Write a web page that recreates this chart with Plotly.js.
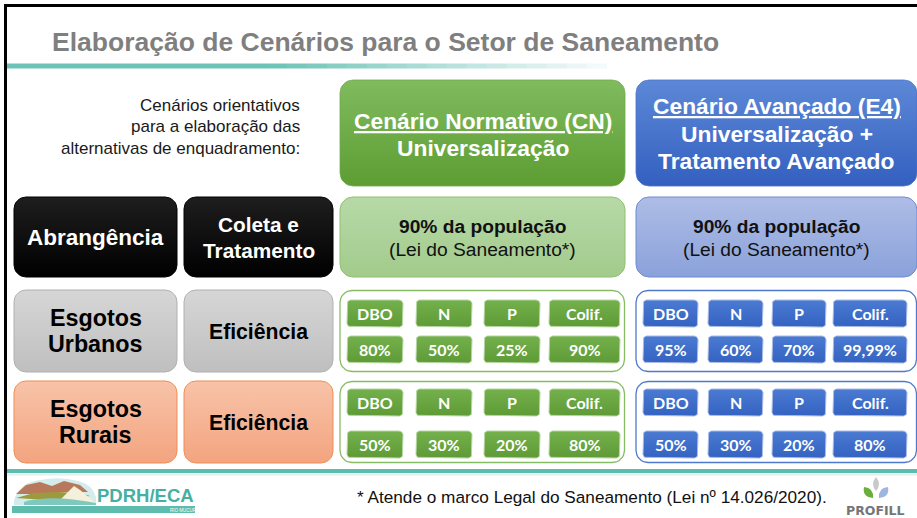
<!DOCTYPE html>
<html><head><meta charset="utf-8">
<script src="https://cdn.plot.ly/plotly-3.0.1.min.js"></script>
<style>html,body{margin:0;padding:0;background:#fff;overflow:hidden}#chart{width:917px;height:518px}</style>
</head><body><div id="chart"></div>
<script>
// ---------- DATA ----------
const TITLE = 'Elaboração de Cenários para o Setor de Saneamento';
const introLines = ['Cenários orientativos', 'para a elaboração das', 'alternativas de enquadramento:'];
const scenarioNames = ['Cenário Normativo (CN)', 'Cenário Avançado (E4)'];
const scenarioSubtitles = [['Universalização'], ['Universalização +', 'Tratamento Avançado']];
const rowLabels = [['Abrangência'], ['Esgotos', 'Urbanos'], ['Esgotos', 'Rurais']];
const rowMeasures = [['Coleta e', 'Tratamento'], ['Eficiência'], ['Eficiência']];
const coverage = ['90% da população', '90% da população'];
const coverageNote = ['(Lei do Saneamento*)', '(Lei do Saneamento*)'];
const params = ['DBO', 'N', 'P', 'Colif.'];
const urbanCN = ['80%', '50%', '25%', '90%'];
const urbanE4 = ['95%', '60%', '70%', '99,99%'];
const ruralCN = ['50%', '30%', '20%', '80%'];
const ruralE4 = ['50%', '30%', '20%', '80%'];
const footnote = '* Atende o marco Legal do Saneamento (Lei nº 14.026/2020).';
const logoLeft = 'PDRH/ECA';
const logoLeftSub = 'RIO MUCURI';
const logoRight = 'PROFILL';

// ---------- GEOMETRY / STYLE ----------
const FONT = 'Liberation Sans, Arial, sans-serif';
const CAL = 'Lato, Carlito, Calibri, sans-serif';
const scenX = [[340, 625], [636, 917]];
const headerY = [80, 186];
const rowY = [[197, 277], [290, 372], [381, 463]];
const leftX = [[14, 177], [184, 333]];
const cellCols = [
  [[347, 403], [416, 472], [484, 540], [549, 620]],
  [[643, 698], [708, 763], [772, 826], [833, 907]]
];
const cellRows = [[[300, 327], [336, 363]], [[389, 416], [431, 458]]];
const efficiency = [[urbanCN, urbanE4], [ruralCN, ruralE4]];

const greenDark = {top: '#80bb5e', bot: '#5d9d33', line: '#6ea84e'};
const blueDark = {top: '#5d88d7', bot: '#3360c0', line: '#4a72c8'};
const greenLight = {top: '#b7d9a7', bot: '#a2cb8c', line: '#8fc06f'};
const blueLight = {top: '#aebde6', bot: '#8aa1da', line: '#6d8bd2'};
const cellGreen = {top: '#74b14c', bot: '#5e9b36', line: '#b5d6a0'};
const cellBlue = {top: '#4c7bd3', bot: '#3362c1', line: '#a9bbe6'};
const leftStyles = [
  [{top: '#1e1e1e', bot: '#000000', line: '#000000'}, {top: '#1e1e1e', bot: '#000000', line: '#000000'}],
  [{top: '#d6d6d6', bot: '#bfbfbf', line: '#b0b0b0'}, {top: '#d6d6d6', bot: '#bfbfbf', line: '#b0b0b0'}],
  [{top: '#f8c3a8', bot: '#f3a47f', line: '#ef8d55'}, {top: '#f8c3a8', bot: '#f3a47f', line: '#ef8d55'}]
];

function rrPoly(x0, y0, x1, y1, r) {
  const xs = [], ys = [];
  const corners = [[x1 - r, y0 + r, -90], [x1 - r, y1 - r, 0], [x0 + r, y1 - r, 90], [x0 + r, y0 + r, 180]];
  corners.forEach(([cx, cy, a0]) => {
    for (let k = 0; k <= 8; k++) {
      const a = (a0 + k * 90 / 8) * Math.PI / 180;
      xs.push(cx + r * Math.cos(a)); ys.push(cy + r * Math.sin(a));
    }
  });
  xs.push(xs[0]); ys.push(ys[0]);
  return {xs, ys};
}
const traces = [];
function gbox(x0, y0, x1, y1, r, st, lw) {
  const p = rrPoly(x0, y0, x1, y1, r);
  traces.push({
    type: 'scatter', mode: 'lines', x: p.xs, y: p.ys, fill: 'toself',
    fillcolor: st.bot,
    fillgradient: {type: 'vertical', colorscale: [[0, st.bot], [1, st.top]]},
    line: {color: st.line, width: lw === undefined ? 1 : lw}, hoverinfo: 'skip', showlegend: false
  });
}
function outline(x0, y0, x1, y1, r, color) {
  const p = rrPoly(x0, y0, x1, y1, r);
  traces.push({type: 'scatter', mode: 'lines', x: p.xs, y: p.ys, line: {color: color, width: 1.3},
    hoverinfo: 'skip', showlegend: false});
}
const annotations = [];
function ann(text, x, y, size, color, opts) {
  annotations.push(Object.assign({
    text: text, x: x, y: y, xref: 'x', yref: 'y', showarrow: false,
    xanchor: 'center', yanchor: 'middle',
    font: {family: FONT, size: size, color: color}
  }, opts || {}));
}
const shapes = [];

// frame
shapes.push({type: 'line', x0: 5.5, x1: 5.5, y0: 4, y1: 518, line: {color: '#000', width: 3}});
shapes.push({type: 'line', x0: 4, x1: 917, y0: 5.5, y1: 5.5, line: {color: '#000', width: 3}});
// title underline gradient
for (let i = 0; i < 30; i++) {
  const xa = 7 + i * 20, xb = xa + 20;
  const op = xa < 260 ? 1 : Math.max(0, 1 - (xa - 260) / 350);
  shapes.push({type: 'line', x0: xa, x1: xb, y0: 66, y1: 66, opacity: op, line: {color: '#6cc3b6', width: 5}});
}
// footer line
shapes.push({type: 'line', x0: 7, x1: 917, y0: 471, y1: 471, line: {color: '#5dbcad', width: 4}});
shapes.push({type: 'line', x0: 7, x1: 917, y0: 474.5, y1: 474.5, line: {color: '#dff1ee', width: 2}});

// title
ann('<b>' + TITLE + '</b>', 50, 42, 26.5, '#7f7f7f', {xanchor: 'left'});
// intro
introLines.forEach((t, i) => ann(t, 302, 105 + i * 21.5, 17, '#1a1a1a', {xanchor: 'right'}));

// scenario headers
const hdrStyles = [greenDark, blueDark];
const hdrLineY = [[121, 148], [106, 134, 161]];
scenarioNames.forEach((nm, s) => {
  const [x0, x1] = scenX[s];
  gbox(x0, headerY[0], x1, headerY[1], 13, hdrStyles[s], 0.8);
  const cx = (x0 + x1) / 2;
  const ys = hdrLineY[s];
  ann('<b><span style="text-decoration:underline">' + nm + '</span></b>', cx, ys[0], 22.8, '#ffffff');
  scenarioSubtitles[s].forEach((t, k) => ann('<b>' + t + '</b>', cx, ys[k + 1], 22.8, '#ffffff'));
});

// left label boxes
rowLabels.forEach((lbl, r) => {
  const [y0, y1] = rowY[r];
  const cy = (y0 + y1) / 2;
  const tc = r === 0 ? '#ffffff' : '#000000';
  gbox(leftX[0][0], y0, leftX[0][1], y1, 12, leftStyles[r][0], 1);
  gbox(leftX[1][0], y0, leftX[1][1], y1, 12, leftStyles[r][1], 1);
  const cx0 = (leftX[0][0] + leftX[0][1]) / 2, cx1 = (leftX[1][0] + leftX[1][1]) / 2;
  const s0 = r === 0 ? 22.5 : 23.3;
  lbl.forEach((t, k) => ann('<b>' + t + '</b>', cx0, cy + (k - (lbl.length - 1) / 2) * 26.5, s0, tc));
  const m = rowMeasures[r];
  m.forEach((t, k) => ann('<b>' + t + '</b>', cx1, cy + (k - (m.length - 1) / 2) * 26, r === 0 ? 20.8 : 21.2, tc));
});

// row 1 coverage boxes
const lightStyles = [greenLight, blueLight];
coverage.forEach((c, s) => {
  const [x0, x1] = scenX[s];
  gbox(x0, rowY[0][0], x1, rowY[0][1], 13, lightStyles[s], 1);
  const cx = (x0 + x1) / 2;
  ann('<b>' + c + '</b>', cx, 226, 19.2, '#111111');
  ann(coverageNote[s], cx, 249, 19.2, '#111111');
});

// efficiency grids
const outlineCols = ['#86bd64', '#4f79cc'];
const cellSt = [cellGreen, cellBlue];
efficiency.forEach((pair, g) => {
  const [y0, y1] = rowY[g + 1];
  pair.forEach((vals, s) => {
    outline(scenX[s][0], y0 + 0.5, scenX[s][1] - 0.5, y1 - 0.5, 12, outlineCols[s]);
    cellCols[s].forEach(([cx0, cx1], j) => {
      const [hr, vr] = cellRows[g];
      gbox(cx0, hr[0], cx1, hr[1], 4, cellSt[s], 1);
      gbox(cx0, vr[0], cx1, vr[1], 4, cellSt[s], 1);
      const cx = (cx0 + cx1) / 2;
      const f = {family: CAL, size: 16, color: '#ffffff'};
      ann('<b>' + params[j] + '</b>', cx, (hr[0] + hr[1]) / 2, 16, '#ffffff', {font: f});
      ann('<b>' + vals[j] + '</b>', cx, (vr[0] + vr[1]) / 2, 16, '#ffffff', {font: f});
    });
  });
});

// footnote
ann(footnote, 355, 497, 17.2, '#111111', {xanchor: 'left'});

// left logo (approximation)
shapes.push({type: 'path', path: 'M14,500 Q20,482 40,480 Q60,476 78,481 Q92,484 96,497 L96,505 L14,505 Z', fillcolor: '#d4ecec', line: {width: 0}});
shapes.push({type: 'path', path: 'M16,494 L26,485 L40,482 L52,486 L64,481 L80,485 L88,492 L66,492 L46,494 Z', fillcolor: '#b8785c', line: {width: 0}});
shapes.push({type: 'path', path: 'M16,498 L34,493 L56,492 L80,493 L90,496 L70,499 L46,500 Z', fillcolor: '#9c9a3d', line: {width: 0}});
shapes.push({type: 'path', path: 'M58,502 L74,486 L80,490 L96,503 Z', fillcolor: '#f5f0da', line: {width: 0}});
shapes.push({type: 'path', path: 'M24,502 Q50,494 96,503 L96,505 L24,505 Z', fillcolor: '#7fc8bd', line: {width: 0}});
shapes.push({type: 'rect', x0: 12, x1: 195, y0: 506, y1: 513, fillcolor: '#5dbcad', line: {width: 0}});
ann('<b>' + logoLeft + '</b>', 145, 495.5, 18.5, '#44b0a2');
ann(logoLeftSub, 183, 510.5, 4.5, '#ffffff');

// right logo (approximation)
shapes.push({type: 'path', path: 'M876,477 Q870,484 876,491 Q882,484 876,477 Z', fillcolor: '#c9c9c9', line: {width: 0}});
shapes.push({type: 'path', path: 'M864,487 Q862,497 873,498 Q874,488 864,487 Z', fillcolor: '#6aae3e', line: {width: 0}});
shapes.push({type: 'path', path: 'M888,487 Q890,497 879,498 Q878,488 888,487 Z', fillcolor: '#9cb6e0', line: {width: 0}});
ann('<b>' + logoRight + '</b>', 875, 510, 12.5, '#767676', {font: {family: 'DejaVu Sans, sans-serif', size: 12.5, color: '#767676'}});

const layout = {
  width: 917, height: 518, margin: {l: 0, r: 0, t: 0, b: 0},
  paper_bgcolor: '#ffffff', plot_bgcolor: '#ffffff',
  xaxis: {range: [0, 917], visible: false, fixedrange: true},
  yaxis: {range: [518, 0], visible: false, fixedrange: true},
  shapes: shapes, annotations: annotations, showlegend: false
};
Plotly.newPlot('chart', traces, layout, {staticPlot: true, displayModeBar: false});
</script></body></html>
